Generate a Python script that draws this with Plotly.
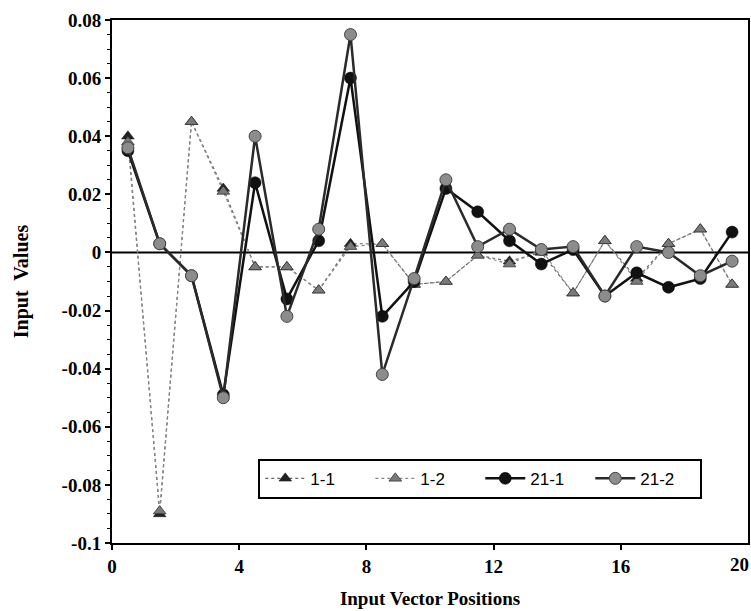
import plotly.graph_objects as go

positions = [0.5, 1.5, 2.5, 3.5, 4.5, 5.5, 6.5, 7.5, 8.5, 9.5,
             10.5, 11.5, 12.5, 13.5, 14.5, 15.5, 16.5, 17.5, 18.5, 19.5]

s_1_1 = [0.040, -0.090, 0.045, 0.022, -0.005, -0.005, -0.013, 0.003, 0.003, -0.011,
         -0.010, -0.001, -0.003, 0.000, -0.014, 0.004, -0.009, 0.003, 0.008, -0.011]
s_1_2 = [0.038, -0.089, 0.045, 0.021, -0.005, -0.005, -0.013, 0.002, 0.003, -0.011,
         -0.010, -0.001, -0.004, 0.001, -0.014, 0.004, -0.010, 0.003, 0.008, -0.011]
s_21_1 = [0.035, 0.003, -0.008, -0.049, 0.024, -0.016, 0.004, 0.060, -0.022, -0.010,
          0.022, 0.014, 0.004, -0.004, 0.001, -0.015, -0.007, -0.012, -0.009, 0.007]
s_21_2 = [0.036, 0.003, -0.008, -0.050, 0.040, -0.022, 0.008, 0.075, -0.042, -0.009,
          0.025, 0.002, 0.008, 0.001, 0.002, -0.015, 0.002, 0.000, -0.008, -0.003]

series_names = ["1-1", "1-2", "21-1", "21-2"]

y_tick_vals = [0.08, 0.06, 0.04, 0.02, 0, -0.02, -0.04, -0.06, -0.08, -0.1]
y_tick_text = ["0.08", "0.06", "0.04", "0.02", "0", "-0.02", "-0.04", "-0.06", "-0.08", "-0.1"]
x_tick_vals = [0, 4, 8, 12, 16, 20]
x_tick_text = ["0", "4", "8", "12", "16", "20"]

SERIF = "Liberation Serif, Times New Roman, serif"

fig = go.Figure()

fig.add_trace(go.Scatter(
    x=positions, y=s_1_1, name=series_names[0], mode="lines+markers",
    line=dict(color="#666666", width=1.2, dash="dot"),
    marker=dict(symbol="triangle-up", size=11, color="#222222",
                line=dict(color="#111111", width=0.5)),
))
fig.add_trace(go.Scatter(
    x=positions, y=s_1_2, name=series_names[1], mode="lines+markers",
    line=dict(color="#888888", width=1.2, dash="dot"),
    marker=dict(symbol="triangle-up", size=11, color="#7a7a7a",
                line=dict(color="#333333", width=0.8)),
))
fig.add_trace(go.Scatter(
    x=positions, y=s_21_1, name=series_names[2], mode="lines+markers",
    line=dict(color="#111111", width=2.5),
    marker=dict(symbol="circle", size=12, color="#111111",
                line=dict(color="#000000", width=0.5)),
))
fig.add_trace(go.Scatter(
    x=positions, y=s_21_2, name=series_names[3], mode="lines+markers",
    line=dict(color="#2a2a2a", width=2.5),
    marker=dict(symbol="circle", size=12, color="#8c8c8c",
                line=dict(color="#444444", width=1)),
))

fig.update_layout(
    width=751, height=611,
    margin=dict(l=112, r=3, t=20, b=68, autoexpand=False),
    paper_bgcolor="white", plot_bgcolor="white",
    showlegend=True,
    legend=dict(
        orientation="h", x=0.23, y=0.161, xanchor="left", yanchor="top",
        bordercolor="black", borderwidth=2, bgcolor="white",
        font=dict(family="Liberation Sans, Arial, sans-serif", size=17, color="black"),
        itemwidth=40, entrywidth=55, entrywidthmode="pixels", tracegroupgap=0,
    ),
    shapes=[dict(type="line", xref="paper", x0=0, x1=1, yref="y", y0=0, y1=0,
                 line=dict(color="black", width=2), layer="below")],
    annotations=[dict(x=x_tick_vals[-1], xref="x", y=0, yref="paper", yshift=-9, xshift=3,
                      text="<b>" + x_tick_text[-1] + "</b>", showarrow=False,
                      xanchor="right", yanchor="top",
                      font=dict(family=SERIF, size=19, color="black"))],
    xaxis=dict(
        range=[0, 20], tickvals=x_tick_vals[:-1], ticktext=x_tick_text[:-1],
        showgrid=False, zeroline=False, automargin=False,
        showline=True, mirror=True, linecolor="black", linewidth=2,
        ticks="outside", ticklen=5, tickcolor="black", tickwidth=1.5,
        tickfont=dict(family=SERIF, size=19, color="black", weight="bold"),
        title=dict(text="<b>Input Vector Positions</b>", standoff=16,
                   font=dict(family=SERIF, size=19, color="black")),
    ),
    yaxis=dict(
        range=[-0.1, 0.08], tickvals=y_tick_vals, ticktext=y_tick_text,
        showgrid=False, zeroline=False, automargin=False,
        showline=True, mirror=True, linecolor="black", linewidth=2,
        ticks="outside", ticklen=5, tickcolor="black", tickwidth=1.5,
        minor=dict(dtick=0.005, ticks="outside", ticklen=3, tickcolor="black", tickwidth=1),
        tickfont=dict(family=SERIF, size=19, color="black", weight="bold"),
        title=dict(text="<b>Input  Values</b>", standoff=28,
                   font=dict(family=SERIF, size=20, color="black")),
    ),
)

fig.write_html("out.html", config={"displayModeBar": False},
               post_script="document.body.style.margin='0';document.body.style.padding='0';")
